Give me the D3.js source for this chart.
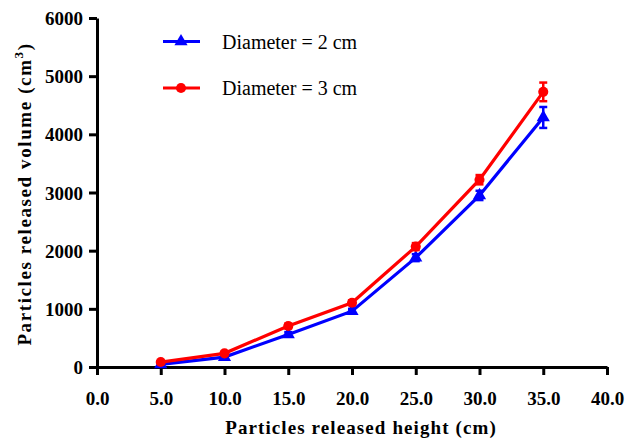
<!DOCTYPE html>
<html><head><meta charset="utf-8">
<script src="https://cdn.jsdelivr.net/npm/d3@7"></script>
<style>body{margin:0;background:#fff}</style>
</head><body>
<svg id="c" width="641" height="440" font-family="Liberation Serif"></svg>
<script>
const heights = [5, 10, 15, 20, 25, 30, 35];
const vol2 = [45, 170, 560, 960, 1880, 2950, 4290];
const err2 = [20, 30, 40, 40, 60, 80, 180];
const vol3 = [85, 235, 705, 1105, 2070, 3220, 4730];
const err3 = [20, 30, 40, 40, 60, 80, 160];
const xTicks = [0, 5, 10, 15, 20, 25, 30, 35, 40];
const yTicks = [0, 1000, 2000, 3000, 4000, 5000, 6000];
const seriesNames = ["Diameter = 2 cm", "Diameter = 3 cm"];
const colors = ["#0000ff", "#ff0000"];

const FONT = "Liberation Serif";
const svg = d3.select("#c");
const x = d3.scaleLinear().domain([0, 40]).range([97, 607]);
const y = d3.scaleLinear().domain([0, 6000]).range([367, 18]);

const xa = svg.append("g").attr("transform", "translate(0,367)")
  .call(d3.axisBottom(x).tickValues(xTicks).tickFormat(d3.format(".1f")).tickSize(8).tickSizeOuter(0));
const ya = svg.append("g").attr("transform", "translate(97,0)")
  .call(d3.axisLeft(y).tickValues(yTicks).tickFormat(d3.format("d")).tickSize(8).tickSizeOuter(0));
[xa, ya].forEach(a => {
  a.attr("font-family", FONT).attr("font-size", 19).attr("font-weight", "bold");
  a.select(".domain").attr("stroke", "#000").attr("stroke-width", 3);
  a.selectAll(".tick line").attr("stroke", "#000").attr("stroke-width", 3);
  a.selectAll(".tick text").attr("fill", "#000");
});
xa.selectAll(".tick text").attr("y", 38).attr("dy", 0);
ya.selectAll(".tick text").attr("x", -14).attr("dy", "0.35em");

svg.append("text").attr("x", 361).attr("y", 434).attr("text-anchor", "middle")
  .attr("font-family", FONT).attr("font-weight", "bold").attr("font-size", 19)
  .attr("letter-spacing", 1.1).text("Particles released height (cm)");

const yt = svg.append("text").attr("transform", "translate(31,194) rotate(-90)")
  .attr("text-anchor", "middle")
  .attr("font-family", FONT).attr("font-weight", "bold").attr("font-size", 19)
  .attr("letter-spacing", 1.6);
yt.append("tspan").text("Particles released volume (cm");
yt.append("tspan").attr("dy", -8).attr("font-size", 13).text("3");
yt.append("tspan").attr("dy", 8).text(")");

const data = [
  heights.map((h, i) => ({h, v: vol2[i], e: err2[i]})),
  heights.map((h, i) => ({h, v: vol3[i], e: err3[i]}))
];
const line = d3.line().x(d => x(d.h)).y(d => y(d.v));
const tri = d3.symbol().type(d3.symbolTriangle).size(75);
const circ = d3.symbol().type(d3.symbolCircle).size(80);

data.forEach((ser, k) => {
  const g = svg.append("g");
  g.append("path").datum(ser).attr("d", line).attr("fill", "none")
    .attr("stroke", colors[k]).attr("stroke-width", 3.2);
  ser.forEach(d => {
    g.append("line").attr("x1", x(d.h)).attr("x2", x(d.h))
      .attr("y1", y(d.v - d.e)).attr("y2", y(d.v + d.e))
      .attr("stroke", colors[k]).attr("stroke-width", 2.5);
    [d.v - d.e, d.v + d.e].forEach(vv => g.append("line")
      .attr("x1", x(d.h) - 4).attr("x2", x(d.h) + 4)
      .attr("y1", y(vv)).attr("y2", y(vv))
      .attr("stroke", colors[k]).attr("stroke-width", 2.5));
  });
  g.selectAll("path.m").data(ser).join("path").attr("class", "m")
    .attr("d", k === 0 ? tri : circ)
    .attr("transform", d => `translate(${x(d.h)},${y(d.v)})`)
    .attr("fill", colors[k]);
});

// legend
const legY = [41.5, 88];
seriesNames.forEach((n, k) => {
  const g = svg.append("g");
  g.append("line").attr("x1", 163).attr("x2", 200).attr("y1", legY[k]).attr("y2", legY[k])
    .attr("stroke", colors[k]).attr("stroke-width", 3.2);
  g.append("path").attr("d", k === 0 ? tri() : circ())
    .attr("transform", `translate(181,${legY[k]})`).attr("fill", colors[k]);
  g.append("text").attr("x", 222).attr("y", legY[k]).attr("dy", "0.35em")
    .attr("font-family", FONT).attr("font-size", 20).text(n);
});
</script>
</body></html>
